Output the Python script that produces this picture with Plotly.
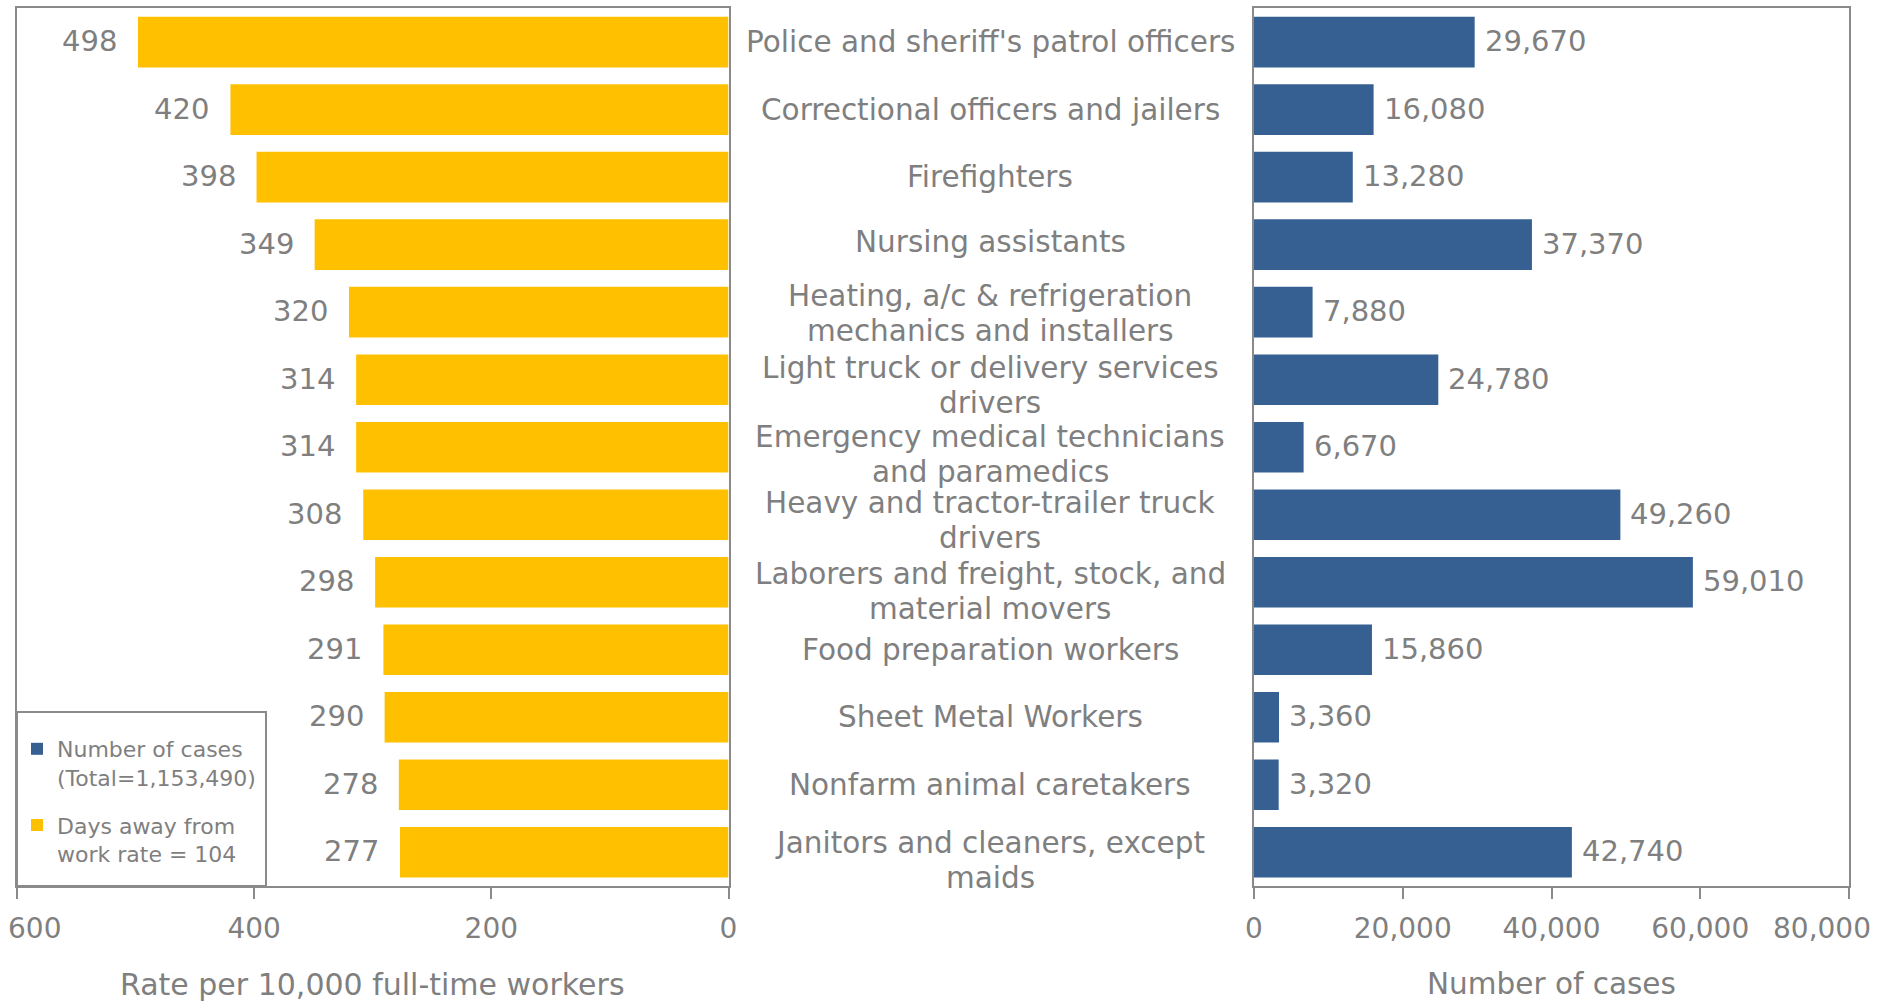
import plotly.graph_objects as go

# ---------------- data ----------------
occupations = [
    "Police and sheriff's patrol officers",
    "Correctional officers and jailers",
    "Firefighters",
    "Nursing assistants",
    "Heating, a/c & refrigeration<br>mechanics and installers",
    "Light truck or delivery services<br>drivers",
    "Emergency medical technicians<br>and paramedics",
    "Heavy and tractor-trailer truck<br>drivers",
    "Laborers and freight, stock, and<br>material movers",
    "Food preparation workers",
    "Sheet Metal Workers",
    "Nonfarm animal caretakers",
    "Janitors and cleaners, except<br>maids",
]
rate_values = [498, 420, 398, 349, 320, 314, 314, 308, 298, 291, 290, 278, 277]
case_values = [29670, 16080, 13280, 37370, 7880, 24780, 6670, 49260, 59010, 15860, 3360, 3320, 42740]

rate_ticks = [0, 200, 400, 600]
rate_tick_labels = ["0", "200", "400", "600"]
case_ticks = [0, 20000, 40000, 60000, 80000]
case_tick_labels = ["0", "20,000", "40,000", "60,000", "80,000"]

cases_legend = "Number of cases<br>(Total=1,153,490)"
rate_legend = "Days away from<br>work rate = 104"
rate_axis_title = "Rate per 10,000 full-time workers"
case_axis_title = "Number of cases"

# ---------------- styling ----------------
W, H = 1877, 1004
GREY = "#7f7f7f"
LINE = "#8a8a8a"
YELLOW = "#FFC000"
BLUE = "#366092"
FONT = "DejaVu Sans"
# vertical nudge (px, downward) of the wrapped centre labels
label_nudge = [0, 0, 0, -3, 1, 6, 7, 6, 9, 0, 0, 0, 8]

def px_x(p):
    return p / W

def px_y(p):
    return 1 - p / H

left_dom = [px_x(17), px_x(728.5)]
right_dom = [px_x(1254), px_x(1849)]
y_dom = [px_y(886), px_y(8.4)]

fig = go.Figure()

fig.add_trace(go.Bar(
    y=occupations, x=case_values, orientation="h",
    marker=dict(color=BLUE, line=dict(width=0)),
    name=cases_legend, legendgroup="cases",
    xaxis="x2", yaxis="y2", hoverinfo="x+y",
))
fig.add_trace(go.Bar(
    y=occupations, x=rate_values, orientation="h",
    marker=dict(color=YELLOW, line=dict(width=0)),
    name=rate_legend, legendgroup="rate",
    xaxis="x", yaxis="y", hoverinfo="x+y",
))

annotations = []
# center category labels (one annotation per text line)
for cat, nudge in zip(occupations, label_nudge):
    lines = cat.split("<br>")
    n = len(lines)
    for i, ln in enumerate(lines):
        shift = (n - 1) / 2 * 35 - i * 35 - nudge
        annotations.append(dict(
            x=px_x(990), xref="paper", y=cat, yref="y",
            text=ln, showarrow=False, xanchor="center", yanchor="middle",
            yshift=shift, font=dict(family=FONT, size=29.5, color=GREY),
        ))

# value labels
for cat, v in zip(occupations, rate_values):
    annotations.append(dict(
        x=v, xref="x", y=cat, yref="y", text=str(v), showarrow=False,
        xanchor="right", yanchor="middle", xshift=-19, yshift=1,
        font=dict(family=FONT, size=29, color=GREY),
    ))
for cat, v in zip(occupations, case_values):
    annotations.append(dict(
        x=v, xref="x2", y=cat, yref="y2", text=f"{v:,}", showarrow=False,
        xanchor="left", yanchor="middle", xshift=8, yshift=1,
        font=dict(family=FONT, size=29, color=GREY),
    ))

# end tick labels, kept inside the page edge (as in the reference)
tick_y = px_y(928)
annotations.append(dict(
    x=rate_ticks[-1], xref="x", y=tick_y, yref="paper", text=rate_tick_labels[-1],
    showarrow=False, xanchor="left", yanchor="middle", xshift=-11,
    font=dict(family=FONT, size=28, color=GREY),
))
annotations.append(dict(
    x=case_ticks[-1], xref="x2", y=tick_y, yref="paper", text=case_tick_labels[-1],
    showarrow=False, xanchor="right", yanchor="middle", xshift=24,
    font=dict(family=FONT, size=28, color=GREY),
))
rate_shown = rate_tick_labels[:-1] + [""]
case_shown = case_tick_labels[:-1] + [""]

# axis titles
annotations.append(dict(
    x=(left_dom[0] + left_dom[1]) / 2, xref="paper", y=px_y(984), yref="paper",
    text=rate_axis_title, showarrow=False, xanchor="center", yanchor="middle",
    font=dict(family=FONT, size=30, color=GREY),
))
annotations.append(dict(
    x=(right_dom[0] + right_dom[1]) / 2, xref="paper", y=px_y(984), yref="paper",
    text=case_axis_title, showarrow=False, xanchor="center", yanchor="middle",
    font=dict(family=FONT, size=29.5, color=GREY),
))

axis_common = dict(
    showline=True, mirror=True, linecolor=LINE, linewidth=2,
    showgrid=False, zeroline=False,
    ticks="outside", ticklen=11, tickwidth=2, tickcolor=LINE,
    tickfont=dict(family=FONT, size=28, color=GREY),
    ticklabelstandoff=5, ticklabeloverflow="allow",
    automargin=False, fixedrange=True,
)
yaxis_common = dict(
    showline=True, mirror=True, linecolor=LINE, linewidth=2,
    showgrid=False, zeroline=False, showticklabels=False, ticks="",
    type="category", categoryorder="array", categoryarray=occupations,
    range=[len(occupations) - 0.5, -0.5], domain=y_dom, automargin=False,
    fixedrange=True,
)

fig.update_layout(
    template="none",
    width=W, height=H,
    margin=dict(l=0, r=0, t=0, b=0, pad=0),
    paper_bgcolor="white", plot_bgcolor="white",
    font=dict(family=FONT, color=GREY),
    bargap=0.25,
    showlegend=True,
    xaxis=dict(domain=left_dom, range=[600, 0], tickmode="array",
               tickvals=rate_ticks, ticktext=rate_shown, anchor="y",
               **axis_common),
    xaxis2=dict(domain=right_dom, range=[0, 80000], tickmode="array",
                tickvals=case_ticks, ticktext=case_shown, anchor="y2",
                **axis_common),
    yaxis=dict(anchor="x", **yaxis_common),
    yaxis2=dict(anchor="x2", **yaxis_common),
    legend=dict(
        x=px_x(17), y=px_y(728), xanchor="left", yanchor="top",
        bgcolor="rgba(0,0,0,0)", borderwidth=0,
        font=dict(family=FONT, size=22, color=GREY),
        traceorder="grouped", tracegroupgap=16, valign="top",
        itemclick=False, itemdoubleclick=False,
    ),
    shapes=[dict(
        type="rect", xref="paper", yref="paper",
        x0=px_x(17), x1=px_x(266), y0=px_y(886), y1=px_y(712),
        line=dict(color=LINE, width=2), fillcolor="white", layer="above",
    )],
    annotations=annotations,
)

fig.write_html(
    "out.html",
    config={"displayModeBar": False},
    post_script="document.body.style.margin='0';document.body.style.overflow='hidden';",
)
